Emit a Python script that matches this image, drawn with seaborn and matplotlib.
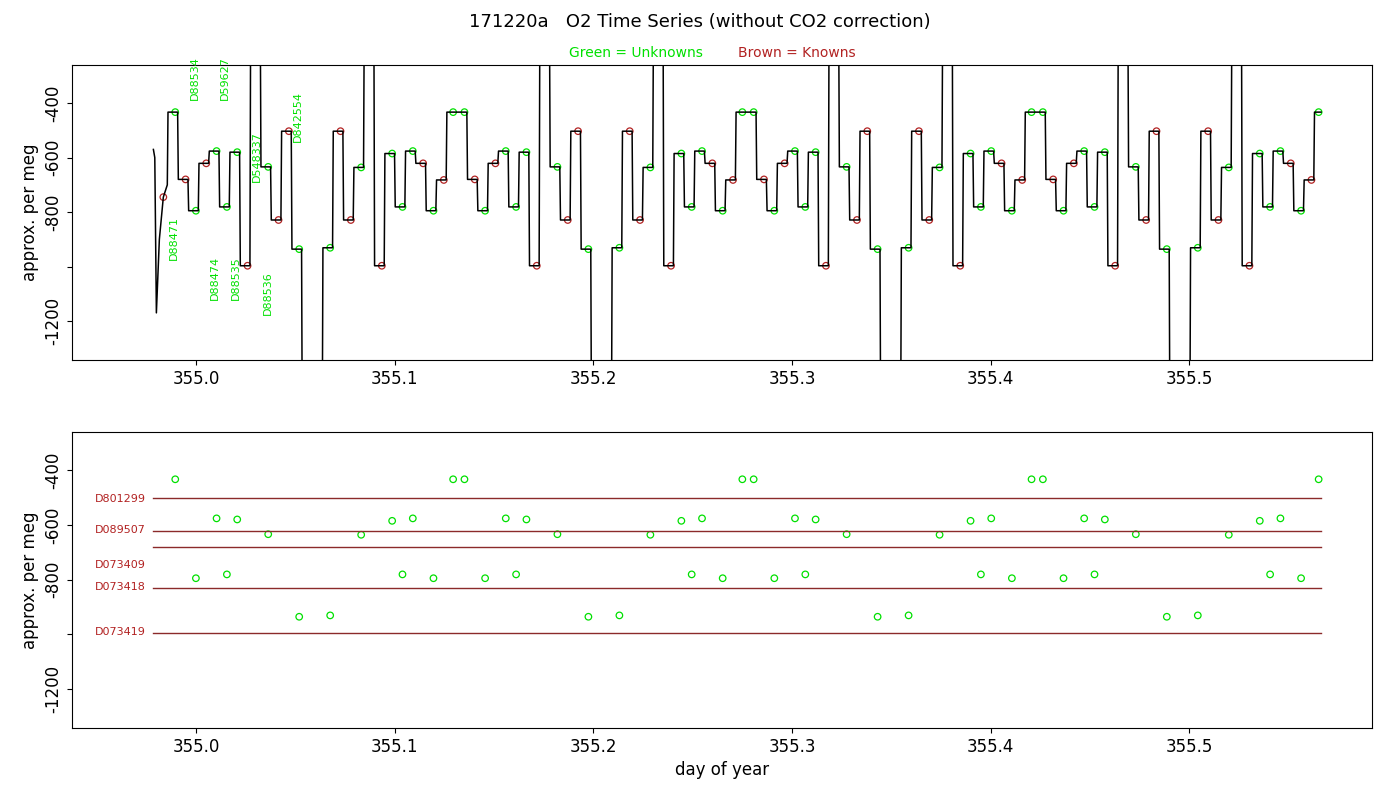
import numpy as np
import pandas as pd
import matplotlib
matplotlib.use("Agg")
import matplotlib.pyplot as plt
import seaborn as sns

# ---- data ----
sequence_levels = [-680, -795, -621, -576, -781, -580, -997, 'UP', -634, -829, -503, -936, 'DN',
                   -931, -503, -829, -636, 'UP', -997, -585, -781, -576, -621, -795, -682]
sequence_kinds = ['K', 'U', 'K', 'U', 'U', 'U', 'K', 'S', 'U', 'K', 'K', 'U', 'S',
                  'U', 'K', 'K', 'U', 'S', 'K', 'U', 'U', 'U', 'K', 'U', 'K']
peak_level = -433
n_sequences = 4
t_start = 354.9855
unit_days = 0.0052
start_trace_t = [354.9785, 354.9792, 354.9800, 354.9815, 354.9835, 354.9855]
start_trace_v = [-570, -600, -1170, -900, -745, -700]

known_names = ['D801299', 'D089507', 'D073409', 'D073418', 'D073419']
known_levels = [-503, -621, -681, -829, -997]
known_label_y = [-505, -620, -745, -826, -992]

top_labels = ['D88534', 'D59627', 'D548337', 'D842554', 'D88471', 'D88474', 'D88535', 'D88536']
top_label_x = [354.9995, 355.0146, 355.0307, 355.0510, 354.9890, 355.0096, 355.0200, 355.0360]
top_label_y = [-389, -389, -690, -543, -976, -1123, -1123, -1178]

# ---- build trace from plateau list ----
plateaus = [(peak_level, 1, 'U')]
for s in range(n_sequences):
    for lv, kd in zip(sequence_levels, sequence_kinds):
        if lv == 'DN':
            plateaus.append((-1600, 2, 'S'))
        elif lv == 'UP':
            plateaus.append((-100, 1, 'S'))
        else:
            plateaus.append((lv, 1, kd))
    if s < n_sequences - 1:
        plateaus.append((peak_level, 2, 'U2'))
    else:
        plateaus.append((peak_level, 0.7, 'U'))

tt, vv = list(start_trace_t), list(start_trace_v)
circ_t, circ_v, circ_k = [start_trace_t[4]], [start_trace_v[4]], ['K']
t = t_start
ramp = 0.0007
for lv, dur, kd in plateaus:
    t0, t1 = t, t + dur * unit_days
    tt += [t0 + ramp * 0.5, t0 + ramp, t1]
    vv += [lv, lv, lv]
    if kd in ('U', 'K'):
        circ_t.append(t1 - 0.0012); circ_v.append(lv); circ_k.append(kd)
    elif kd == 'U2':
        circ_t += [t0 + 0.0035, t1 - 0.0012]; circ_v += [lv, lv]; circ_k += ['U', 'U']
    t = t1

trace = pd.DataFrame({'t': tt, 'v': vv})
circ = pd.DataFrame({'t': circ_t, 'v': circ_v, 'k': circ_k})
unk = circ[circ.k == 'U']
kn = circ[circ.k == 'K']

GREEN = '#00e000'
BROWN = '#b22222'
fig = plt.figure(figsize=(14, 8), dpi=100)
ax1 = fig.add_axes([0.0514, 0.55, 0.9286, 0.36875])
ax2 = fig.add_axes([0.0514, 0.09, 0.9286, 0.37])

sns.lineplot(data=trace, x='t', y='v', ax=ax1, color='black', lw=1.1, sort=False, estimator=None)
sns.scatterplot(data=unk, x='t', y='v', ax=ax1, facecolor='none', edgecolor=GREEN, s=22, linewidth=0.9)
sns.scatterplot(data=kn, x='t', y='v', ax=ax1, facecolor='none', edgecolor=BROWN, s=22, linewidth=0.9)
for lab, x, y in zip(top_labels, top_label_x, top_label_y):
    ax1.text(x, y, lab, rotation=90, ha='center', va='bottom', color=GREEN, fontsize=8)

sns.scatterplot(data=unk, x='t', y='v', ax=ax2, facecolor='none', edgecolor=GREEN, s=22, linewidth=0.9)
t_end = trace.t.iloc[-1]
for name, lv, ly in zip(known_names, known_levels, known_label_y):
    ax2.plot([354.9785, t_end], [lv, lv], color='#8b2a2a', lw=1.0)
    ax2.text(354.9488, ly, name, color=BROWN, fontsize=8, va='center', ha='left')

for ax in (ax1, ax2):
    ax.set_xlim(354.9375, 355.592)
    ax.set_ylim(-1343, -260)
    ax.set_xticks([355.0, 355.1, 355.2, 355.3, 355.4, 355.5])
    ax.set_xticklabels(['355.0', '355.1', '355.2', '355.3', '355.4', '355.5'], fontsize=12)
    ax.set_yticks([-400, -600, -800, -1000, -1200])
    ax.set_yticklabels(['-400', '-600', '-800', '', '-1200'], fontsize=12, rotation=90, va='center')
    ax.set_ylabel('approx. per meg', fontsize=12)
    ax.set_xlabel('')
    for sp in ax.spines.values():
        sp.set_linewidth(0.8)
ax2.set_xlabel('day of year', fontsize=12)

fig.text(0.5, 0.972, '171220a   O2 Time Series (without CO2 correction)', ha='center', va='center', fontsize=13)
fig.text(0.454, 0.934, 'Green = Unknowns', ha='center', va='center', fontsize=10, color=GREEN)
fig.text(0.569, 0.934, 'Brown = Knowns', ha='center', va='center', fontsize=10, color=BROWN)
fig.savefig('out.png', dpi=100)
